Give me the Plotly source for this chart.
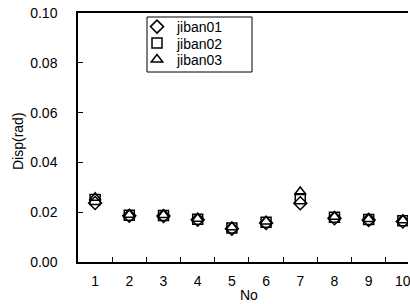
import plotly.graph_objects as go

categories = ["1", "2", "3", "4", "5", "6", "7", "8", "9", "10"]
jiban01 = [0.0237, 0.0186, 0.0185, 0.0170, 0.0134, 0.0157, 0.0236, 0.0176, 0.0169, 0.0163]
jiban02 = [0.0251, 0.0188, 0.0187, 0.0172, 0.0137, 0.0160, 0.0254, 0.0180, 0.0171, 0.0166]
jiban03 = [0.0258, 0.0190, 0.0189, 0.0174, 0.0140, 0.0163, 0.0281, 0.0182, 0.0173, 0.0168]
y_ticks = [0.00, 0.02, 0.04, 0.06, 0.08, 0.10]

FONT = "Liberation Sans, Arial, sans-serif"

# plot area in page pixels
L, T, W, H = 78, 13, 330, 249
FW, FH = 410, 304

def px_x(x):  # page pixel -> paper x
    return (x - L) / W

def px_y(y):  # page pixel -> paper y
    return (T + H - y) / H

fig = go.Figure()
series = [("jiban01", jiban01, "diamond-open", "legend"),
          ("jiban02", jiban02, "square-open", "legend2"),
          ("jiban03", jiban03, "triangle-up-open", "legend3")]
for name, vals, sym, lg in series:
    fig.add_trace(go.Scatter(
        x=categories, y=vals, name=name, mode="markers", legend=lg,
        marker=dict(symbol=sym, size=10, color="black", line=dict(color="black", width=1.5)),
    ))

leg_common = dict(xanchor="left", yanchor="middle", borderwidth=0, bgcolor="rgba(0,0,0,0)",
                  font=dict(size=14), itemwidth=30)

fig.update_layout(
    width=FW, height=FH,
    margin=dict(l=L, r=FW - L - W, t=T, b=FH - T - H),
    paper_bgcolor="white", plot_bgcolor="white",
    font=dict(family=FONT, size=14, color="black"),
    showlegend=True,
    legend=dict(x=px_x(137), y=px_y(27), **leg_common),
    legend2=dict(x=px_x(137), y=px_y(43.5), **leg_common),
    legend3=dict(x=px_x(137), y=px_y(60), **leg_common),
    shapes=[dict(type="rect", xref="paper", yref="paper",
                 x0=px_x(147), x1=px_x(252), y0=px_y(17), y1=px_y(72),
                 line=dict(color="black", width=1), fillcolor="white", layer="below")],
    xaxis=dict(type="category", range=[-0.5, 9.15], showline=True, linecolor="black",
               linewidth=1.5, mirror=True, ticks="inside", ticklen=5, tickson="boundaries",
               tickcolor="black", showgrid=False, zeroline=False, ticklabelstandoff=5,
               automargin=False, ticklabeloverflow="allow"),
    yaxis=dict(range=[0, 0.10], tickvals=y_ticks, tickformat=".2f", showline=True,
               linecolor="black", linewidth=1.5, ticks="inside", ticklen=5, tickcolor="black",
               showgrid=False, zeroline=False, ticklabelstandoff=16, automargin=False,
               ticklabeloverflow="allow"),
    annotations=[
        dict(text="No", xref="paper", yref="paper", x=px_x(249), y=px_y(295),
             xanchor="center", yanchor="middle", showarrow=False, font=dict(size=14)),
        dict(text="Disp(rad)", xref="paper", yref="paper", x=px_x(18), y=px_y(141),
             xanchor="center", yanchor="middle", textangle=-90, showarrow=False,
             font=dict(size=14)),
    ],
)

fig.write_html("out.html",
               config={"displayModeBar": False},
               post_script="document.body.style.margin='0';document.body.style.overflow='hidden';")
